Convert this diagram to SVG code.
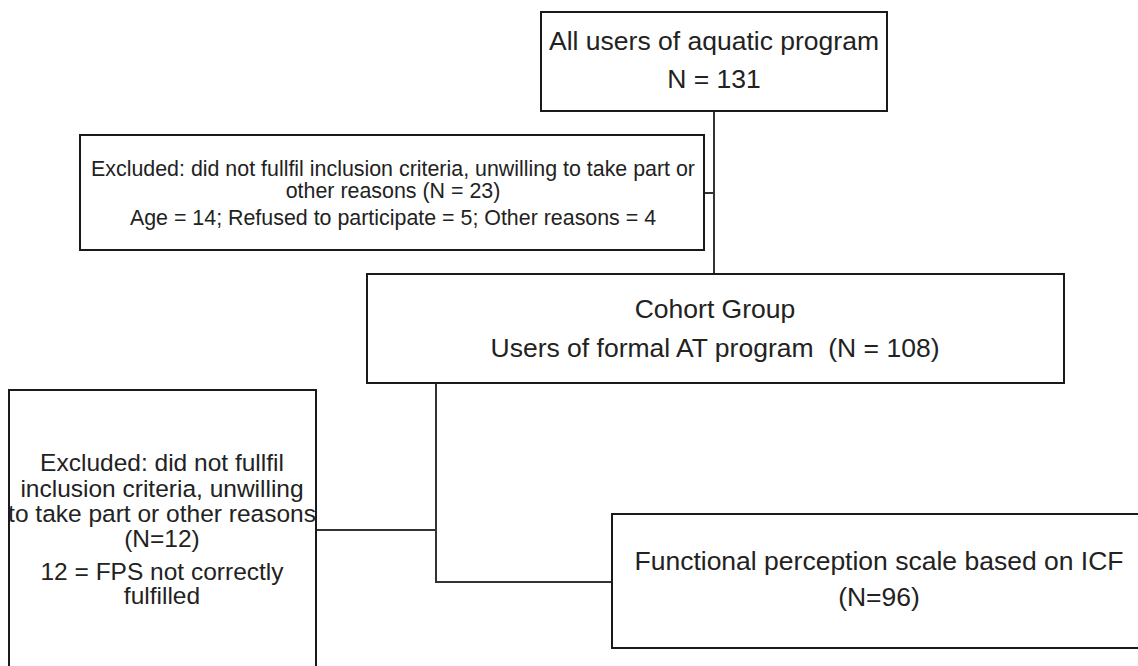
<svg xmlns="http://www.w3.org/2000/svg" width="1138" height="666" viewBox="0 0 1138 666">
<style>
.box{fill:#ffffff;stroke:#1a1a1a;stroke-width:2}
.t{font-family:"Liberation Sans",Arial,sans-serif;fill:#222222;text-anchor:middle}
.big{font-size:26.5px}
.mid{font-size:24.5px}
.sm{font-size:21.4px}
.conn{fill:none;stroke:#333333;stroke-width:2}
</style>
<rect width="1138" height="666" fill="#ffffff"/>
<g id="connectors">
<path class="conn" d="M714 111 V274"/>
<path class="conn" d="M704 193 H714"/>
<path class="conn" d="M436 383 V582 H612"/>
<path class="conn" d="M316 530 H436"/>
</g>
<g id="all-users">
<rect class="box" x="541" y="12" width="346" height="99"/>
<text class="t big" x="714" y="50">All users of aquatic program</text>
<text class="t big" x="714" y="88">N = 131</text>
</g>
<g id="excluded-1">
<rect class="box" x="80" y="135" width="624" height="115"/>
<text class="t sm" x="393" y="176">Excluded: did not fullfil inclusion criteria, unwilling to take part or</text>
<text class="t sm" x="393" y="198">other reasons (N = 23)</text>
<text class="t sm" x="393" y="225">Age = 14; Refused to participate = 5; Other reasons = 4</text>
</g>
<g id="cohort">
<rect class="box" x="367" y="274" width="697" height="109"/>
<text class="t big" x="715" y="318">Cohort Group</text>
<text class="t big" x="715" y="357" xml:space="preserve">Users of formal AT program  (N = 108)</text>
</g>
<g id="excluded-2">
<rect class="box" x="9" y="390" width="307" height="300"/>
<text class="t mid" x="162" y="471">Excluded: did not fullfil</text>
<text class="t mid" x="162" y="497">inclusion criteria, unwilling</text>
<text class="t mid" x="162" y="522">to take part or other reasons</text>
<text class="t mid" x="162" y="547">(N=12)</text>
<text class="t mid" x="162" y="580">12 = FPS not correctly</text>
<text class="t mid" x="162" y="604">fulfilled</text>
</g>
<g id="fps">
<rect class="box" x="612" y="514" width="540" height="134"/>
<text class="t big" x="879" y="570">Functional perception scale based on ICF</text>
<text class="t big" x="879" y="606">(N=96)</text>
</g>
</svg>
